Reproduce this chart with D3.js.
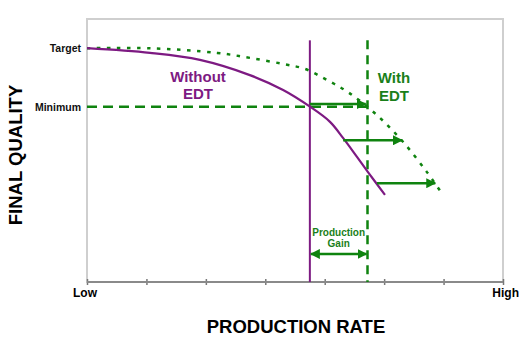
<!DOCTYPE html>
<html><head><meta charset="utf-8">
<script src="https://cdn.jsdelivr.net/npm/d3@7"></script>
<style>body{margin:0;background:#fff}svg{display:block;font-family:"Liberation Sans",Arial,sans-serif}</style>
</head><body><svg id="c" width="525" height="359"></svg>
<script>
// ---- data ----
const xTickValues = [0,1,2,3,4,5,6,7];
const xEndLabels = ["Low","High"];
const yLevelNames = ["Target","Minimum"];
const yLevelValues = [8, 6];
const withoutX = [0, 1.06, 1.90, 2.74, 3.30, 3.752, 4.089, 4.308, 4.543, 4.728, 5.014];
const withoutY = [8, 7.84, 7.60, 7.08, 6.57, 6.0, 5.48, 4.93, 4.28, 3.76, 2.98];
const withX = [0, 1.06, 2.19, 2.74, 3.30, 3.67, 4.04, 4.39, 4.88, 5.32, 5.72, 5.97];
const withY = [8, 8.0, 7.84, 7.67, 7.46, 7.29, 6.91, 6.50, 5.71, 4.79, 3.76, 3.04];
const rateWithout = 3.75, rateWith = 4.72, rateLineTop = 8.27;
const shiftFromX = [3.75, 4.31, 4.88];
const shiftToX = [4.69, 5.30, 5.86];
const shiftY = [6.09, 4.85, 3.38];
const gainY = 0.96;

// ---- layout ----
const svg = d3.select("#c");
const x = d3.scaleLinear().domain([0,7]).range([87,503]);
const y = d3.scaleLinear().domain([0,9]).range([282,19]);
const purple = "#7d1a82", green = "#0f830f", tgreen = "#1a7f1a";

const defs = svg.append("defs");
function marker(id, orient){
  defs.append("marker").attr("id",id).attr("viewBox","0 0 10 10").attr("refX",9).attr("refY",5)
    .attr("markerWidth",4).attr("markerHeight",4).attr("markerUnits","strokeWidth").attr("orient",orient)
    .append("path").attr("d","M0,0L10,5L0,10Z").attr("fill",green);
}
marker("ah","auto"); marker("ahs","auto-start-reverse");

// frame
svg.append("rect").attr("x",x(0)).attr("y",y(9)).attr("width",x(7)-x(0)).attr("height",y(0)-y(9))
  .attr("fill","none").attr("stroke","#cfcfcf").attr("stroke-width",2);

// bottom axis
const ax = svg.append("g").attr("transform",`translate(0,${y(0)})`)
  .call(d3.axisBottom(x).tickValues(xTickValues).tickSize(3).tickFormat(""));
ax.select(".domain").remove();
ax.selectAll(".tick line").attr("stroke","#777").attr("stroke-width",1.5).attr("y1",-3).attr("y2",3);
svg.append("line").attr("x1",x(0)).attr("x2",x(7)).attr("y1",y(0)).attr("y2",y(0)).attr("stroke","#8a8a8a").attr("stroke-width",2);

svg.append("text").attr("x",x(0)-14).attr("y",y(0)+15).attr("font-size",12).attr("font-weight","bold").text(xEndLabels[0]);
svg.append("text").attr("x",x(7)+16).attr("y",y(0)+15).attr("text-anchor","end").attr("font-size",12).attr("font-weight","bold").text(xEndLabels[1]);

yLevelNames.forEach((n,i)=>{
  svg.append("text").attr("x",x(0)-6).attr("y",y(yLevelValues[i])+4).attr("text-anchor","end")
    .attr("font-size",10.5).attr("font-weight","bold").attr("fill","#111").text(n);
});

// titles
svg.append("text").attr("x",(x(0)+x(7))/2 + 1).attr("y",333).attr("text-anchor","middle")
  .attr("font-size",18.5).attr("font-weight","bold").text("PRODUCTION RATE");
svg.append("text").attr("transform","translate(22,155) rotate(-90)").attr("text-anchor","middle")
  .attr("font-size",18.5).attr("font-weight","bold").text("FINAL QUALITY");

// minimum dashed line
svg.append("line").attr("x1",x(0)).attr("x2",x(rateWith)).attr("y1",y(yLevelValues[1])).attr("y2",y(yLevelValues[1]))
  .attr("stroke",green).attr("stroke-width",2.5).attr("stroke-dasharray","10,6");

// vertical lines
svg.append("line").attr("x1",x(rateWithout)).attr("x2",x(rateWithout)).attr("y1",y(rateLineTop)).attr("y2",y(0))
  .attr("stroke",purple).attr("stroke-width",2);
svg.append("line").attr("x1",x(rateWith)).attr("x2",x(rateWith)).attr("y1",y(rateLineTop)).attr("y2",y(0))
  .attr("stroke",green).attr("stroke-width",2.5).attr("stroke-dasharray","9,6");

// curves
const line = d3.line().x(d=>x(d[0])).y(d=>y(d[1])).curve(d3.curveCatmullRom.alpha(0.5));
svg.append("path").datum(withX.map((v,i)=>[v,withY[i]])).attr("d",line)
  .attr("fill","none").attr("stroke",green).attr("stroke-width",2.5).attr("stroke-dasharray","3.5,6.5");
svg.append("path").datum(withoutX.map((v,i)=>[v,withoutY[i]])).attr("d",line)
  .attr("fill","none").attr("stroke",purple).attr("stroke-width",2.2);

// shift arrows
shiftY.forEach((v,i)=>{
  svg.append("line").attr("x1",x(shiftFromX[i])).attr("x2",x(shiftToX[i])).attr("y1",y(v)).attr("y2",y(v))
    .attr("stroke",green).attr("stroke-width",2.5).attr("marker-end","url(#ah)");
});

// production gain arrow
svg.append("line").attr("x1",x(rateWithout)+1).attr("x2",x(rateWith)-1).attr("y1",y(gainY)).attr("y2",y(gainY))
  .attr("stroke",green).attr("stroke-width",2.5).attr("marker-end","url(#ah)").attr("marker-start","url(#ahs)");
const gx = (x(rateWithout)+x(rateWith))/2;
svg.append("text").attr("x",gx).attr("y",y(gainY)-18).attr("text-anchor","middle").attr("font-size",10).attr("font-weight","bold").attr("fill",tgreen).text("Production");
svg.append("text").attr("x",gx).attr("y",y(gainY)-7).attr("text-anchor","middle").attr("font-size",10).attr("font-weight","bold").attr("fill",tgreen).text("Gain");

// curve labels
svg.append("text").attr("x",198).attr("y",82).attr("text-anchor","middle").attr("font-size",15).attr("font-weight","bold").attr("fill",purple).text("Without");
svg.append("text").attr("x",198).attr("y",99).attr("text-anchor","middle").attr("font-size",15).attr("font-weight","bold").attr("fill",purple).text("EDT");
svg.append("text").attr("x",394).attr("y",83).attr("text-anchor","middle").attr("font-size",15).attr("font-weight","bold").attr("fill",tgreen).text("With");
svg.append("text").attr("x",394).attr("y",101).attr("text-anchor","middle").attr("font-size",15).attr("font-weight","bold").attr("fill",tgreen).text("EDT");
</script></body></html>
